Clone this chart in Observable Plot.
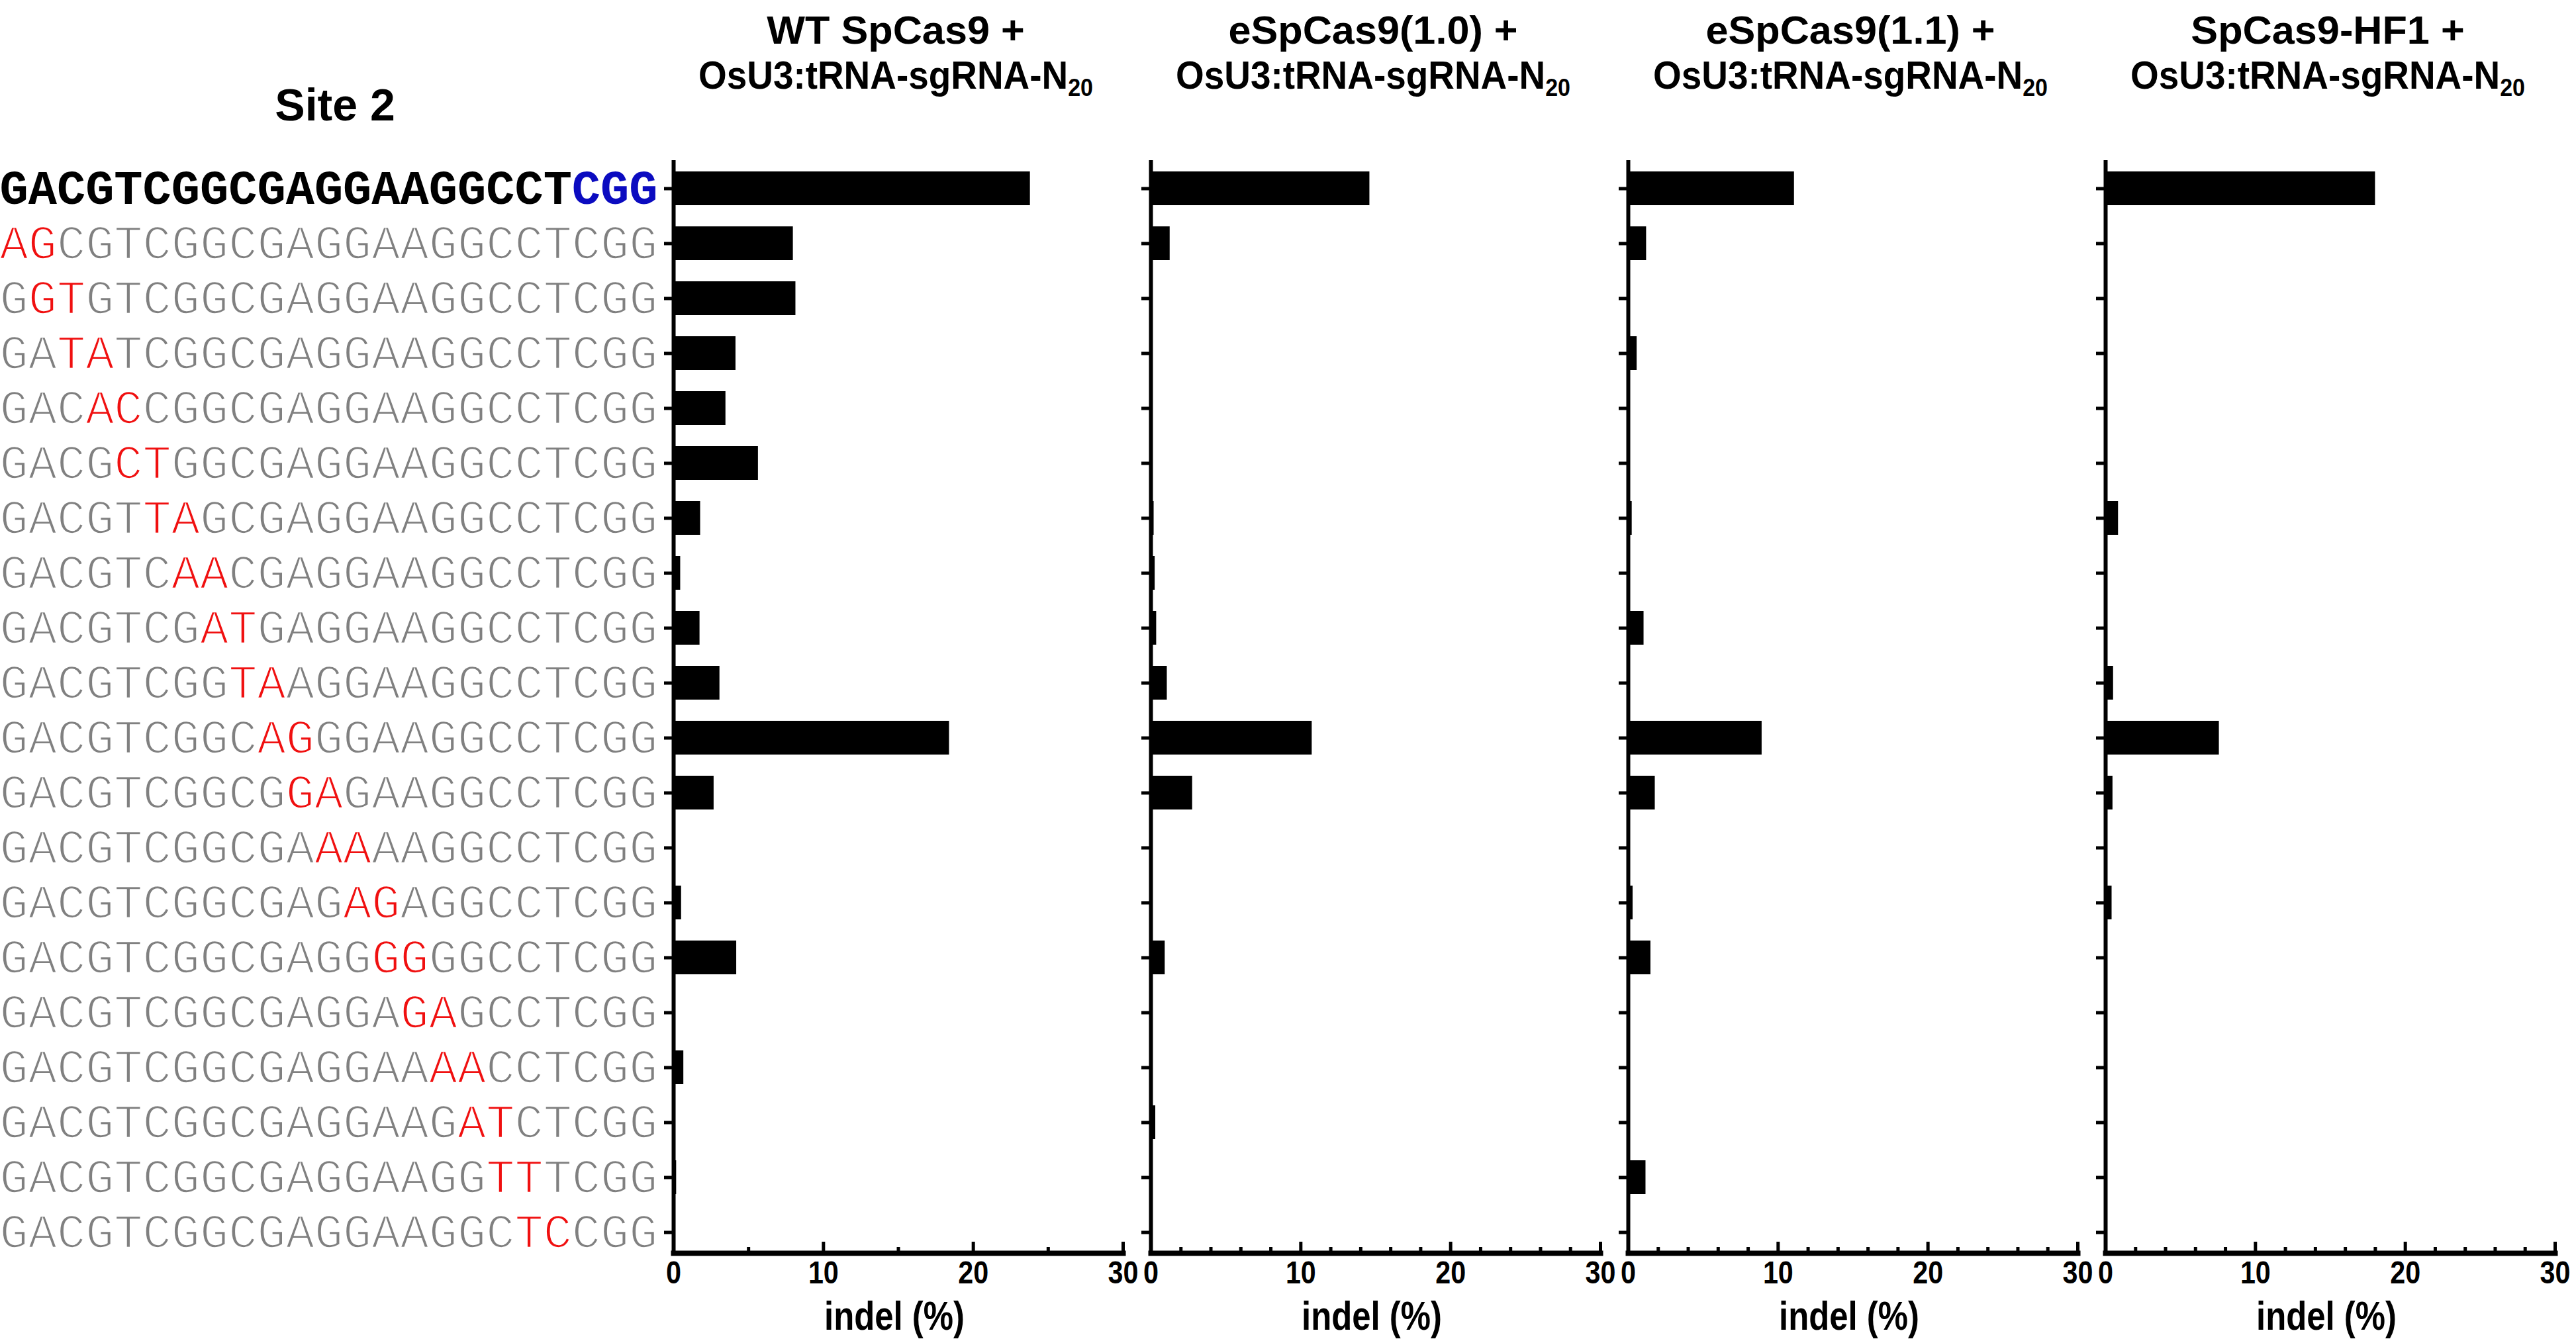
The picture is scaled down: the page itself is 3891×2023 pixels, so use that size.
<!DOCTYPE html>
<html><head><meta charset="utf-8">
<script src="https://cdn.jsdelivr.net/npm/d3@7"></script>
<script src="https://cdn.jsdelivr.net/npm/@observablehq/plot@0.6"></script>
<style>
body{margin:0;background:#fff;}
#fig{position:relative;width:3891px;height:2023px;overflow:hidden;background:#fff;
  font-family:"Liberation Sans",Arial,sans-serif;}
#fig svg{position:absolute;top:0;overflow:visible;background:transparent;max-width:none;}
.tl{position:absolute;text-align:center;font-weight:bold;font-size:60px;line-height:60px;white-space:nowrap;color:#000;}
.tl sub{font-size:0.62em;vertical-align:-0.3em;line-height:0;}
.site{position:absolute;font-weight:bold;font-size:68px;line-height:68px;white-space:nowrap;transform:translateX(-50%);}
</style></head><body><div id="fig"></div>
<script>
// ---------- data ----------
const siteLabel = "Site 2";
const reference = "GACGTCGGCGAGGAAGGCCTCGG";
const pamLength = 3;
const sequences = [
  "GACGTCGGCGAGGAAGGCCTCGG",
  "AGCGTCGGCGAGGAAGGCCTCGG",
  "GGTGTCGGCGAGGAAGGCCTCGG",
  "GATATCGGCGAGGAAGGCCTCGG",
  "GACACCGGCGAGGAAGGCCTCGG",
  "GACGCTGGCGAGGAAGGCCTCGG",
  "GACGTTAGCGAGGAAGGCCTCGG",
  "GACGTCAACGAGGAAGGCCTCGG",
  "GACGTCGATGAGGAAGGCCTCGG",
  "GACGTCGGTAAGGAAGGCCTCGG",
  "GACGTCGGCAGGGAAGGCCTCGG",
  "GACGTCGGCGGAGAAGGCCTCGG",
  "GACGTCGGCGAAAAAGGCCTCGG",
  "GACGTCGGCGAGAGAGGCCTCGG",
  "GACGTCGGCGAGGGGGGCCTCGG",
  "GACGTCGGCGAGGAGAGCCTCGG",
  "GACGTCGGCGAGGAAAACCTCGG",
  "GACGTCGGCGAGGAAGATCTCGG",
  "GACGTCGGCGAGGAAGGTTTCGG",
  "GACGTCGGCGAGGAAGGCTCCGG"
];
const titleLine1 = ["WT SpCas9 +", "eSpCas9(1.0) +", "eSpCas9(1.1) +", "SpCas9-HF1 +"];
const titleLine2 = "OsU3:tRNA-sgRNA-N";
const titleSub = "20";
const wtSpCas9   = [23.8, 7.98, 8.15, 4.15, 3.48, 5.65, 1.79, 0.46, 1.75, 3.08, 18.4, 2.69, 0.05, 0.52, 4.2, 0, 0.67, 0.05, 0.19, 0];
const eSpCas9v10 = [14.6, 1.27, 0, 0, 0, 0, 0.2, 0.27, 0.37, 1.08, 10.75, 2.77, 0, 0, 0.94, 0, 0, 0.31, 0, 0];
const eSpCas9v11 = [11.08, 1.21, 0, 0.58, 0, 0, 0.25, 0, 1.04, 0, 8.92, 1.79, 0, 0.31, 1.5, 0, 0, 0, 1.17, 0];
const spCas9HF1  = [18.0, 0, 0, 0, 0, 0, 0.85, 0, 0, 0.52, 7.58, 0.48, 0, 0.42, 0, 0, 0, 0, 0, 0];
const xDomain = [0, 30];
const xMajorTicks = [0, 10, 20, 30];
const xMinorTicksWT = [5, 15, 25];
const xMinorTicksOther = [2, 4, 6, 8, 12, 14, 16, 18, 22, 24, 26, 28];
const xLabel = "indel (%)";

// ---------- layout ----------
const H = 2023, MT = 242, MB = 130, FW = 679;
const sans = '"Liberation Sans",Arial,sans-serif';
const mono = '"Liberation Mono","Courier New",monospace';
const panels = [
  {values: wtSpCas9,   minor: xMinorTicksWT,    frameLeft: 1017, labels: true},
  {values: eSpCas9v10, minor: xMinorTicksOther, frameLeft: 1738, labels: false},
  {values: eSpCas9v11, minor: xMinorTicksOther, frameLeft: 2459, labels: false},
  {values: spCas9HF1,  minor: xMinorTicksOther, frameLeft: 3180, labels: false}
];
const fig = document.getElementById("fig");

// narrow the glyphs of an SVG text without moving its anchor
function squeeze(t, sx) {
  const w = t.getComputedTextLength();
  if (w > 0) {
    t.setAttribute("textLength", (w * sx).toFixed(1));
    t.setAttribute("lengthAdjust", "spacingAndGlyphs");
  }
}

panels.forEach((p, k) => {
  const ML = p.labels ? p.frameLeft : 40;
  const MR = Math.min(40, 3891 - (p.frameLeft + FW));
  const rows = p.values.map((v, i) => ({row: i, value: v}));
  const chart = Plot.plot({
    width: ML + FW + MR, height: H,
    marginLeft: ML, marginRight: MR, marginTop: MT, marginBottom: MB,
    style: {fontFamily: sans, background: "transparent", overflow: "visible"},
    x: {domain: xDomain, label: null},
    y: {domain: d3.range(sequences.length), paddingInner: 0.38, paddingOuter: 0.13, align: 0.76, label: null},
    marks: [
      Plot.barX(rows, {x: "value", y: "row", fill: "#000"}),
      Plot.axisY({tickSize: 14, strokeWidth: 5, tickPadding: 10, label: null,
        tickFormat: i => p.labels ? sequences[i] : "", fontSize: 72, fontFamily: mono}),
      Plot.axisX({ticks: xMajorTicks, tickSize: -17, strokeWidth: 5, tickFormat: () => "", label: null}),
      Plot.axisX({ticks: p.minor, tickSize: -9, strokeWidth: 5, tickFormat: () => "", label: null}),
      Plot.axisX({ticks: xMajorTicks, tickSize: 0, tickPadding: 11, fontSize: 48,
        fontWeight: "bold", label: null}),
      Plot.ruleX([0], {strokeWidth: 6}),
      Plot.frame({anchor: "bottom", strokeWidth: 8}),
      Plot.text([xLabel], {frameAnchor: "bottom", dx: -6, dy: 96, lineAnchor: "middle",
        fontSize: 62, fontWeight: "bold"})
    ]
  });
  chart.style.left = (p.frameLeft - ML) + "px";
  fig.appendChild(chart);

  chart.querySelectorAll('g[aria-label="x-axis tick label"] text').forEach(t => squeeze(t, 0.86));
  chart.querySelectorAll('g[aria-label="text"] text').forEach(t => squeeze(t, 0.82));

  if (p.labels) {
    chart.querySelectorAll('g[aria-label="y-axis tick label"] text').forEach(t => {
      const s = t.textContent;
      const idx = sequences.indexOf(s);
      if (idx < 0) return;
      t.textContent = "";
      for (let j = 0; j < s.length; j++) {
        const ts = document.createElementNS("http://www.w3.org/2000/svg", "tspan");
        ts.textContent = s[j];
        let col;
        if (idx === 0) { col = j >= s.length - pamLength ? "#0b0bc0" : "#000"; ts.setAttribute("font-weight", "bold"); }
        else {
          col = s[j] !== reference[j] ? "#f01010" : "#808080";
          ts.setAttribute("stroke", "#fff");
          ts.setAttribute("stroke-width", "2.4");
        }
        ts.setAttribute("fill", col);
        t.appendChild(ts);
      }
      t.setAttribute("font-family", mono);
    });
  }

  const cx = p.frameLeft + FW / 2 - 4;
  const l1 = document.createElement("div");
  l1.className = "tl";
  l1.style.left = cx + "px"; l1.style.top = "16px";
  l1.style.transform = "translateX(-50%) scaleX(1.02)";
  l1.textContent = titleLine1[k];
  fig.appendChild(l1);
  const l2 = document.createElement("div");
  l2.className = "tl";
  l2.style.left = cx + "px"; l2.style.top = "84px";
  l2.style.transform = "translateX(-50%) scaleX(0.915)";
  l2.innerHTML = titleLine2 + "<sub>" + titleSub + "</sub>";
  fig.appendChild(l2);
});

const s = document.createElement("div");
s.className = "site";
s.style.left = "506px"; s.style.top = "124px";
s.textContent = siteLabel;
fig.appendChild(s);
</script></body></html>
